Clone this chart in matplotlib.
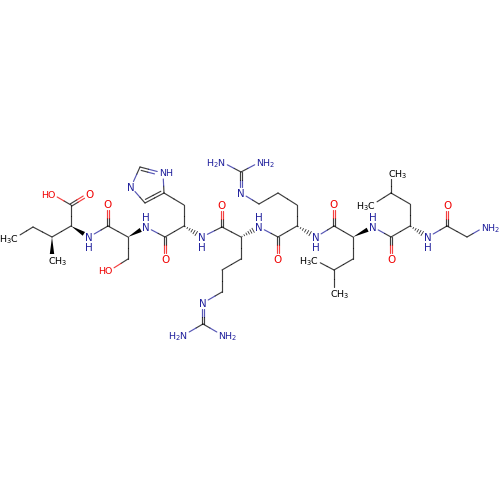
#!/usr/bin/env python3
"""Skeletal formula of the peptide drawn from atom and bond tables (pixel coords)."""
import matplotlib

matplotlib.use("Agg")
import matplotlib.pyplot as plt
import numpy as np

# atoms: name, element, x, y
atom_names = [
    "ile_cd", "ile_cg", "ile_cb", "ile_me", "ile_ca", "ile_c", "ile_o", "ile_oh",
    "ser_n", "ser_c", "ser_o", "ser_ca", "ser_cb", "ser_og",
    "his_n", "his_c", "his_o", "his_ca", "his_cb", "his_cg", "his_nd", "his_ce", "his_ne", "his_cd",
    "arg1_n", "arg1_c", "arg1_o", "arg1_ca", "arg1_cb", "arg1_cg", "arg1_cd", "arg1_ne", "arg1_cz", "arg1_n1", "arg1_n2",
    "arg2_n", "arg2_c", "arg2_o", "arg2_ca", "arg2_cb", "arg2_cg", "arg2_cd", "arg2_ne", "arg2_cz", "arg2_n1", "arg2_n2",
    "leu1_n", "leu1_c", "leu1_o", "leu1_ca", "leu1_cb", "leu1_cg", "leu1_d1", "leu1_d2",
    "leu2_n", "leu2_c", "leu2_o", "leu2_ca", "leu2_cb", "leu2_cg", "leu2_d1", "leu2_d2",
    "gly_n", "gly_c", "gly_o", "gly_ca", "gly_nt",
]
atom_elem = [
    "C", "C", "C", "C", "C", "C", "O", "O",
    "N", "C", "O", "C", "C", "O",
    "N", "C", "O", "C", "C", "C", "N", "C", "N", "C",
    "N", "C", "O", "C", "C", "C", "C", "N", "C", "N", "N",
    "N", "C", "O", "C", "C", "C", "C", "N", "C", "N", "N",
    "N", "C", "O", "C", "C", "C", "C", "C",
    "N", "C", "O", "C", "C", "C", "C", "C",
    "N", "C", "O", "C", "N",
]
atom_x = [
    15, 33, 52, 52, 71, 71, 89, 52,
    89, 108, 108, 128, 128, 109,
    146, 165, 165, 184, 184, 164, 163, 140, 131, 145,
    202, 222, 222, 241, 241, 222, 222, 203, 203, 184, 222,
    259, 278, 278, 297, 297, 278, 259, 241, 241, 222, 260,
    316, 334, 334, 353, 353, 334, 315, 334,
    373, 391, 391, 410, 410, 391, 372, 391,
    428, 447, 447, 467, 484.5,
]
atom_y = [
    238, 227, 237, 260, 226, 205, 194, 194,
    237, 226, 204, 237, 259, 271,
    227, 237, 259, 226, 205, 193, 173, 167, 187, 203,
    237, 227, 205, 237, 259, 270, 292, 303, 324, 335, 335,
    227, 237, 259, 226, 205, 193, 204, 193, 172, 162, 162,
    237, 226, 204, 237, 259, 270, 260, 293,
    227, 237, 259, 226, 204, 193, 205, 173,
    237, 226, 205, 237, 227,
]

# bonds: first atom, second atom, kind (1 single, 2 double, r ring double, w wedge, h hash)
bond_a = [
    "ile_cd", "ile_cg", "ile_cb", "ile_cb", "ile_ca", "ile_c", "ile_c", "ile_ca",
    "ser_n", "ser_c", "ser_c", "ser_ca", "ser_cb", "ser_ca",
    "his_n", "his_c", "his_c", "his_ca", "his_ca", "his_cb", "his_cg", "his_nd", "his_ce", "his_ne", "his_cd",
    "arg1_n", "arg1_c", "arg1_c", "arg1_ca", "arg1_ca", "arg1_cb", "arg1_cg", "arg1_cd", "arg1_ne", "arg1_cz", "arg1_cz",
    "arg2_n", "arg2_c", "arg2_c", "arg2_ca", "arg2_ca", "arg2_cb", "arg2_cg", "arg2_cd", "arg2_ne", "arg2_cz", "arg2_cz",
    "leu1_n", "leu1_c", "leu1_c", "leu1_ca", "leu1_ca", "leu1_cb", "leu1_cg", "leu1_cg",
    "leu2_n", "leu2_c", "leu2_c", "leu2_ca", "leu2_ca", "leu2_cb", "leu2_cg", "leu2_cg",
    "gly_n", "gly_c", "gly_c", "gly_ca",
]
bond_b = [
    "ile_cg", "ile_cb", "ile_me", "ile_ca", "ile_c", "ile_o", "ile_oh", "ser_n",
    "ser_c", "ser_o", "ser_ca", "ser_cb", "ser_og", "his_n",
    "his_c", "his_o", "his_ca", "his_cb", "arg1_n", "his_cg", "his_nd", "his_ce", "his_ne", "his_cd", "his_cg",
    "arg1_c", "arg1_o", "arg1_ca", "arg1_cb", "arg2_n", "arg1_cg", "arg1_cd", "arg1_ne", "arg1_cz", "arg1_n1", "arg1_n2",
    "arg2_c", "arg2_o", "arg2_ca", "arg2_cb", "leu1_n", "arg2_cg", "arg2_cd", "arg2_ne", "arg2_cz", "arg2_n1", "arg2_n2",
    "leu1_c", "leu1_o", "leu1_ca", "leu1_cb", "leu2_n", "leu1_cg", "leu1_d1", "leu1_d2",
    "leu2_c", "leu2_o", "leu2_ca", "leu2_cb", "gly_n", "leu2_cg", "leu2_d1", "leu2_d2",
    "gly_c", "gly_o", "gly_ca", "gly_nt",
]
bond_kind = [
    "1", "1", "w", "1", "1", "2", "1", "w",
    "1", "2", "1", "1", "1", "w",
    "1", "2", "1", "1", "h", "1", "1", "r", "1", "1", "r",
    "1", "2", "1", "1", "h", "1", "1", "1", "2", "1", "1",
    "1", "2", "1", "1", "h", "1", "1", "1", "2", "1", "1",
    "1", "2", "1", "1", "w", "1", "1", "1",
    "1", "2", "1", "1", "h", "1", "1", "1",
    "1", "2", "1", "1",
]

# labels: atom, text
label_atoms = ["ile_cd", "ile_me", "ile_o", "ile_oh", "ser_n", "ser_o", "ser_og",
               "his_n", "his_o", "his_nd", "his_ne", "arg1_n", "arg1_o", "arg1_ne", "arg1_n1", "arg1_n2",
               "arg2_n", "arg2_o", "arg2_ne", "arg2_n1", "arg2_n2",
               "leu1_n", "leu1_o", "leu1_d1", "leu1_d2",
               "leu2_n", "leu2_o", "leu2_d1", "leu2_d2",
               "gly_n", "gly_o", "gly_nt"]
label_text = ["H$_3$C", "CH$_3$", "O", "HO", "N", "O", "HO",
              "N", "O", "NH", "N", "N", "O", "N", "H$_2$N", "NH$_2$",
              "N", "O", "N", "H$_2$N", "NH$_2$",
              "N", "O", "H$_3$C", "CH$_3$",
              "N", "O", "H$_3$C", "CH$_3$",
              "N", "O", "NH$_2$"]
# hydrogen drawn on its own line: -1 above nitrogen, +1 below
nh_atoms = ["ser_n", "his_n", "arg1_n", "arg2_n", "leu1_n", "leu2_n", "gly_n"]
nh_side = [1, -1, 1, -1, 1, -1, 1]
ring_atoms = ["his_cg", "his_nd", "his_ce", "his_ne", "his_cd"]

COLORS = {"C": "#000000", "N": "#1f1f9c", "O": "#f00000"}
FONT_SIZE = 6.8
FONT_SIZE_SINGLE = 7.4
LW = 0.85

pos = {n: np.array([x, y], dtype=float) for n, x, y in zip(atom_names, atom_x, atom_y)}
elem = dict(zip(atom_names, atom_elem))
labelled = set(label_atoms)
ring_center = np.mean([pos[a] for a in ring_atoms], axis=0)


def trimmed(a, b):
    p, q = pos[a].copy(), pos[b].copy()
    u = (q - p) / np.linalg.norm(q - p)
    if a in labelled:
        p = p + u * 6.0
    if b in labelled:
        q = q - u * 6.0
    return p, q


def draw_segment(ax, p, q, a, b):
    # half of each bond takes the colour of its atom
    mid = (p + q) / 2
    ca, cb = COLORS[elem[a]], COLORS[elem[b]]
    ax.plot([p[0], mid[0]], [p[1], mid[1]], color=ca, lw=LW, alpha=0.75, solid_capstyle="round")
    ax.plot([mid[0], q[0]], [mid[1], q[1]], color=cb, lw=LW, alpha=0.75, solid_capstyle="round")


def draw_bond(ax, a, b, kind):
    p, q = trimmed(a, b)
    u = (q - p) / np.linalg.norm(q - p)
    n = np.array([-u[1], u[0]])
    if kind == "1":
        draw_segment(ax, p, q, a, b)
    elif kind == "r":
        draw_segment(ax, p, q, a, b)
        side = 1 if np.dot(ring_center - (p + q) / 2, n) > 0 else -1
        draw_segment(ax, p + n * 3 * side + u * 2, q + n * 3 * side - u * 2, a, b)
    elif kind == "2":
        draw_segment(ax, p + n * 1.3, q + n * 1.3, a, b)
        draw_segment(ax, p - n * 1.3, q - n * 1.3, a, b)
    elif kind == "w":
        ax.fill([p[0], q[0] + n[0] * 2.2, q[0] - n[0] * 2.2], [p[1], q[1] + n[1] * 2.2, q[1] - n[1] * 2.2],
                color="black", lw=0)
    else:
        for t in np.linspace(0.08, 0.95, 6):
            c = p + (q - p) * t
            w = 2.4 * t
            ax.plot([c[0] + n[0] * w, c[0] - n[0] * w], [c[1] + n[1] * w, c[1] - n[1] * w],
                    color="black", lw=0.6, alpha=0.8)


def draw_label(ax, atom, text):
    x, y = pos[atom]
    col = COLORS[elem[atom]]
    kw = dict(color=col, va="center_baseline", family="DejaVu Sans")
    if text.startswith("H"):
        ax.text(x + 3.5, y, text, ha="right", fontsize=FONT_SIZE, **kw)
    elif text == "N" or text == "O":
        ax.text(x, y, text, ha="center", fontsize=FONT_SIZE_SINGLE, **kw)
    else:
        ax.text(x - 3.5, y, text, ha="left", fontsize=FONT_SIZE, **kw)


fig = plt.figure(figsize=(5, 5), dpi=100, facecolor="white")
ax = fig.add_axes([0, 0, 1, 1])
ax.set_xlim(0, 500)
ax.set_ylim(500, 0)
ax.axis("off")

for a, b, k in zip(bond_a, bond_b, bond_kind):
    draw_bond(ax, a, b, k)
for atom, text in zip(label_atoms, label_text):
    draw_label(ax, atom, text)
for atom, side in zip(nh_atoms, nh_side):
    x, y = pos[atom]
    ax.text(x, y + side * 10, "H", color=COLORS["N"], fontsize=FONT_SIZE_SINGLE, ha="center", va="center_baseline")

fig.savefig("out.png", dpi=100, facecolor="white")
